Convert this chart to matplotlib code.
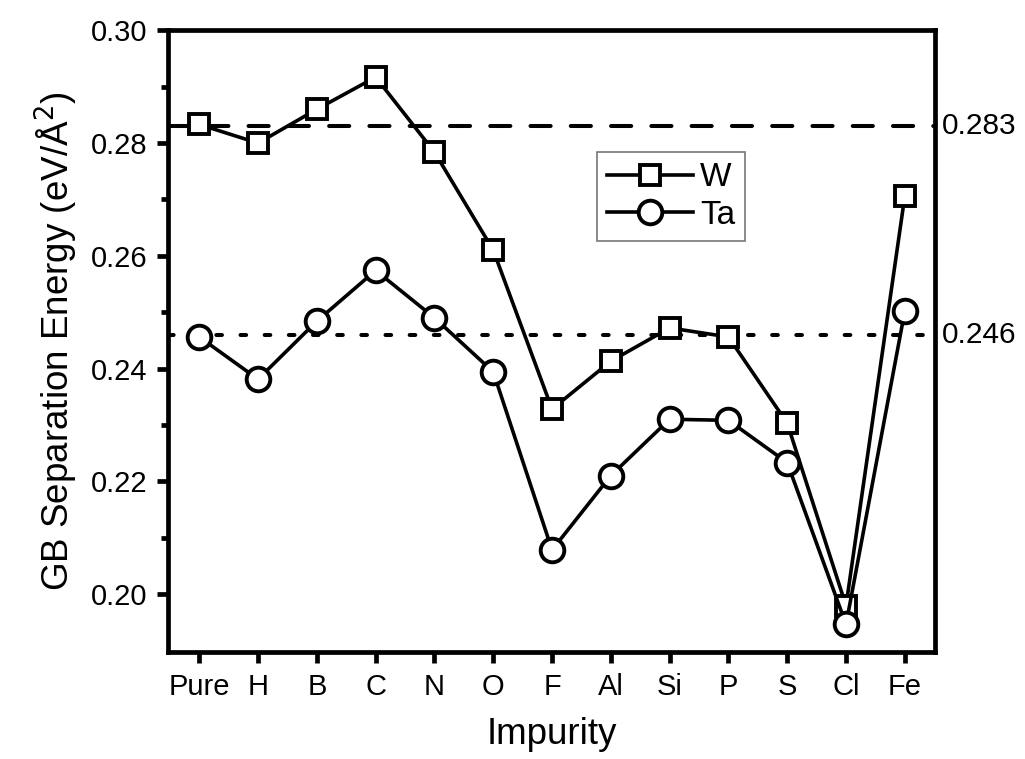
import matplotlib
matplotlib.use('Agg')
import matplotlib.pyplot as plt
from matplotlib.ticker import MultipleLocator, FixedLocator

plt.rcParams['font.family'] = ['Liberation Sans', 'DejaVu Sans']

# impurities along the boundary
impurities = ['Pure', 'H', 'B', 'C', 'N', 'O', 'F', 'Al', 'Si', 'P', 'S', 'Cl', 'Fe']

# separation energy (eV/A^2)
w_energy = [0.2833, 0.2800, 0.2860, 0.2917, 0.2784, 0.2610, 0.2328,
            0.2413, 0.2472, 0.2456, 0.2303, 0.1979, 0.2706]
ta_energy = [0.2456, 0.2381, 0.2484, 0.2574, 0.2490, 0.2394, 0.2078,
             0.2210, 0.2310, 0.2308, 0.2233, 0.1946, 0.2502]

# reference values of the pure boundary
w_ref = 0.283
ta_ref = 0.246

x = range(len(impurities))

fig = plt.figure(figsize=(10.25, 7.59), dpi=100)
ax = fig.add_axes([0.164, 0.141, 0.748, 0.819])

ax.axhline(w_ref, color='black', lw=2.9, ls=(0, (5.0, 5.0)),
           dash_capstyle='round', zorder=1)
ax.axhline(ta_ref, color='black', lw=2.9, ls=(0, (1.4, 4.6)),
           dash_capstyle='round', zorder=1)

ax.plot(x, w_energy, color='black', lw=2.6, marker='s', ms=15,
        mfc='white', mec='black', mew=2.8, label='W', zorder=3)
ax.plot(x, ta_energy, color='black', lw=2.6, marker='o', ms=17,
        mfc='white', mec='black', mew=2.8, label='Ta', zorder=3)

ax.set_xlim(-0.53, 12.51)
ax.set_ylim(0.1897, 0.30)
ax.set_xticks(list(x))
ax.set_xticklabels(impurities)
ax.yaxis.set_major_locator(MultipleLocator(0.02))
ax.yaxis.set_minor_locator(FixedLocator([0.21, 0.23, 0.25, 0.27, 0.29]))
ax.yaxis.set_major_formatter(plt.FormatStrFormatter('%.2f'))

for s in ax.spines.values():
    s.set_linewidth(3.4)
ax.tick_params(axis='both', which='major', direction='out', length=8, width=3.4,
               labelsize=21, pad=7)
ax.tick_params(axis='y', which='minor', direction='out', length=5, width=3.4)

ax.set_xlabel('Impurity', fontsize=26.5, labelpad=12)
ax.set_ylabel('GB Separation Energy (eV/Å$^2$)', fontsize=26.5, labelpad=8)

# reference value labels outside the right spine
ax.text(1.009, w_ref, '%.3f' % w_ref, transform=ax.get_yaxis_transform(),
        va='center', ha='left', fontsize=21.5)
ax.text(1.009, ta_ref, '%.3f' % ta_ref, transform=ax.get_yaxis_transform(),
        va='center', ha='left', fontsize=21.5)

leg = ax.legend(loc='upper left', bbox_to_anchor=(0.559, 0.804), fontsize=24,
                handlelength=2.6, frameon=True, fancybox=False,
                borderpad=0.3, labelspacing=0.2, handletextpad=0.2,
                borderaxespad=0)
leg.get_frame().set_edgecolor('#555555')
leg.get_frame().set_linewidth(1.2)

fig.savefig('out.png', dpi=100)
